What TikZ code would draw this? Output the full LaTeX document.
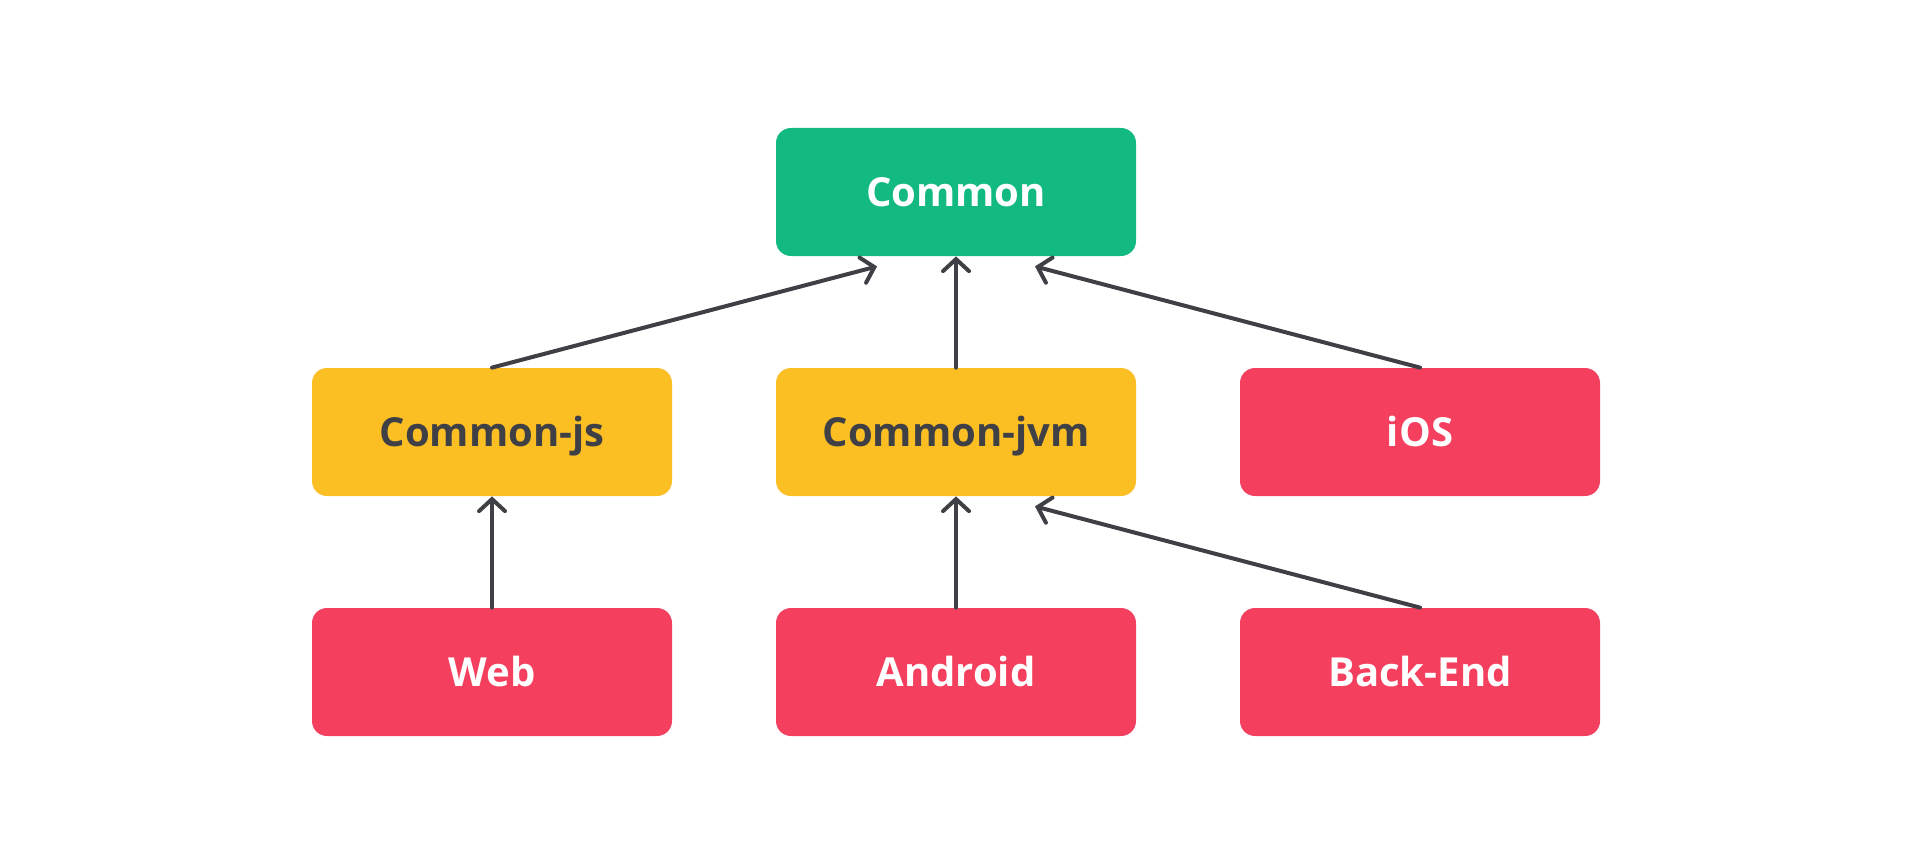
\documentclass[tikz,border=0pt]{standalone}
\usepackage{fontspec}
\setmainfont{Open Sans}
\usepackage{tikz}
\usetikzlibrary{arrows.meta, calc}
\usepackage{xcolor}
\definecolor{commongreen}{RGB}{18, 185, 129}
\definecolor{sharedyellow}{RGB}{251, 191, 36}
\definecolor{targetred}{RGB}{244, 63, 94}
\definecolor{inkgray}{RGB}{63, 63, 70}

\tikzset{
  module/.style={rounded corners=7.5pt, minimum width=180pt, minimum height=64pt,
    inner sep=0pt, text height=14.3pt, text depth=0pt,
    font=\bfseries\fontsize{20}{24}\selectfont},
  commonbox/.style={module, fill=commongreen, text=white},
  sharedbox/.style={module, fill=sharedyellow, text=inkgray},
  targetbox/.style={module, fill=targetred, text=white},
  dep/.style={inkgray, line width=2pt, line cap=round,
    -{Straight Barb[length=6pt, width=13pt, line cap=round]}}
}

\begin{document}
\begin{tikzpicture}[x=0.5pt, y=0.5pt]

  \useasboundingbox (0,0) rectangle (1920,864);

  % Top level
  \node[commonbox] (common) at (956, 672) {Common};

  % Shared modules
  \node[sharedbox] (commonjs)  at (492, 432)  {Common-js};
  \node[sharedbox] (commonjvm) at (956, 432)  {Common-jvm};
  \node[targetbox] (ios)       at (1420, 432) {iOS};

  % Platforms
  \node[targetbox] (web)     at (492, 192)  {Web};
  \node[targetbox] (android) at (956, 192)  {Android};
  \node[targetbox] (backend) at (1420, 192) {Back-End};

  % Dependencies
  \draw[dep] (commonjs.north) -- ($(common.south)+(-79,-10)$);
  \draw[dep] (commonjvm.north) -- (common.south);
  \draw[dep] (ios.north) -- ($(common.south)+(79,-10)$);

  \draw[dep] (web.north) -- (commonjs.south);
  \draw[dep] (android.north) -- (commonjvm.south);
  \draw[dep] (backend.north) -- ($(commonjvm.south)+(79,-10)$);

\end{tikzpicture}
\end{document}
